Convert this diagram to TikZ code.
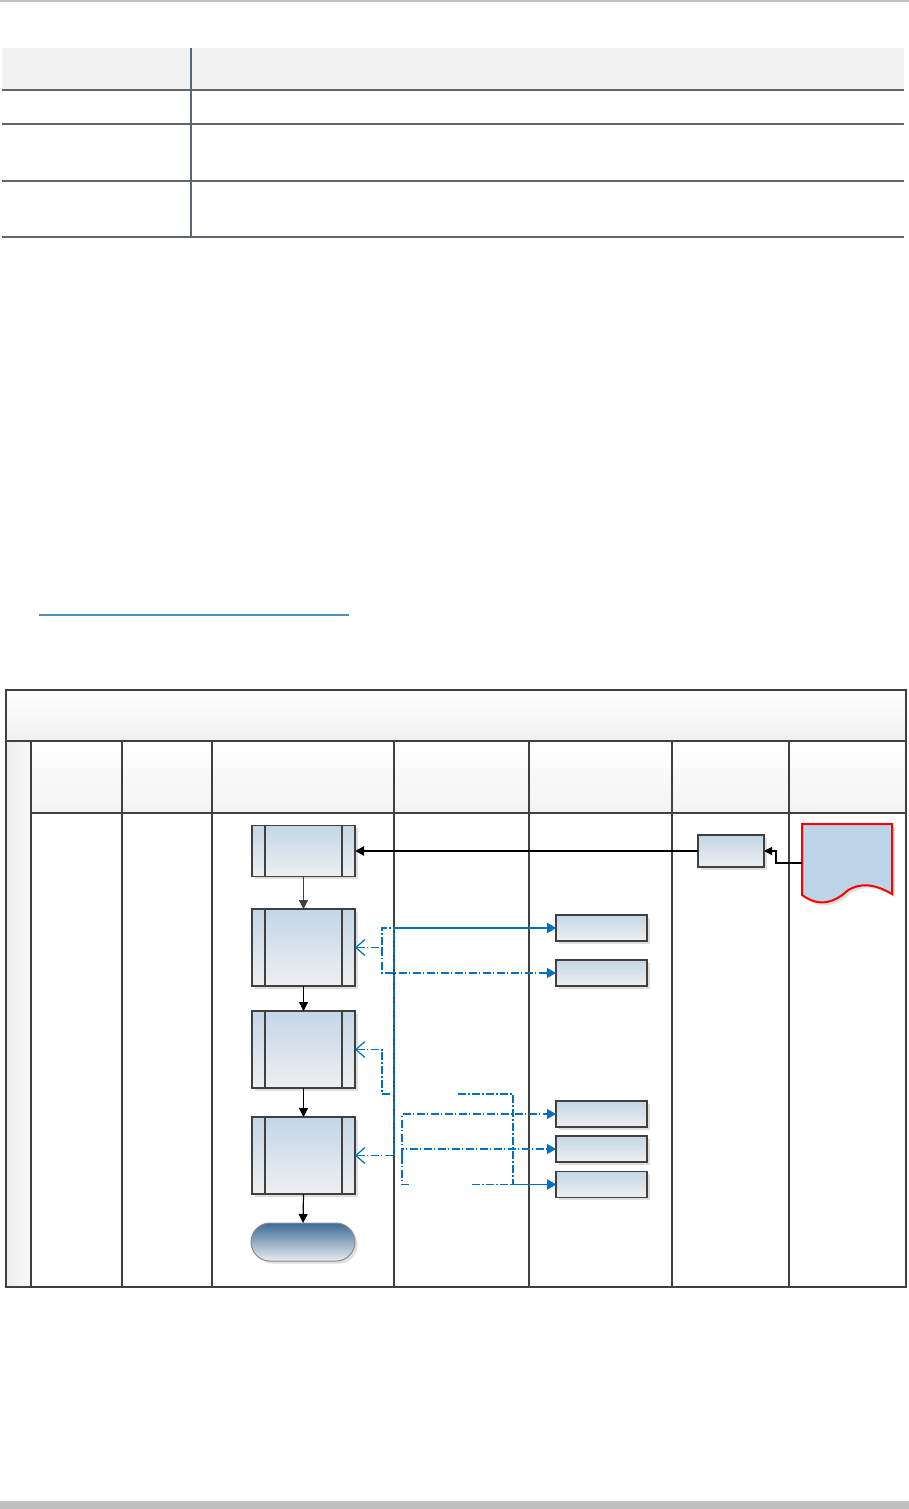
\documentclass[tikz,border=0pt]{standalone}
\usetikzlibrary{arrows.meta,shadows,shadings}
\definecolor{lanec}{HTML}{404040}
\definecolor{tblc}{HTML}{5B6670}
\definecolor{hdrc}{HTML}{F2F2F2}
\definecolor{ulc}{HTML}{4F8FBF}
\definecolor{boxtop}{HTML}{C3D6E7}
\definecolor{boxbot}{HTML}{EEEFF1}
\definecolor{termtop}{HTML}{3D6B98}
\definecolor{termbot}{HTML}{E9EDF1}
\definecolor{docfill}{HTML}{BDD3E8}
\definecolor{bluec}{HTML}{0070C0}
\definecolor{barc}{HTML}{C0C0C0}
\tikzset{
  shad/.style={drop shadow={fill=black!13,opacity=1,shadow xshift=1.3pt,shadow yshift=-1.3pt}},
  subproc/.style={draw=lanec,line width=0.7pt,top color=boxtop,bottom color=boxbot,
    inner sep=0pt,outer sep=0pt,minimum width=51.5pt,minimum height=38.5pt,shad,
    path picture={
      \draw[lanec,line width=0.7pt] ([xshift=6.5pt]path picture bounding box.north west) -- ([xshift=6.5pt]path picture bounding box.south west);
      \draw[lanec,line width=0.7pt] ([xshift=-6.5pt]path picture bounding box.north east) -- ([xshift=-6.5pt]path picture bounding box.south east);}},
  smallbox/.style={draw=lanec,line width=0.7pt,top color=boxtop,bottom color=boxbot,
    inner sep=0pt,outer sep=0pt,minimum width=45.5pt,minimum height=13pt,shad},
  termbox/.style={draw=black!45,line width=0.5pt,top color=termtop,bottom color=termbot,
    rounded corners=9.5pt,inner sep=0pt,outer sep=0pt,minimum width=52pt,minimum height=19pt,shad},
  flow/.style={draw=black,line width=0.6pt,-{Triangle[length=4.5pt,width=4.5pt]}},
  bl/.style={draw=bluec,line width=0.6pt,dash pattern=on 4pt off 1.2pt on 0.6pt off 1.2pt},
  Oarr/.tip={Straight Barb[length=4.5pt,width=8pt,line width=0.6pt]},
  Farr/.tip={Triangle[length=4.5pt,width=5pt]},
  laneline/.style={draw=lanec,line width=0.75pt},
  tblline/.style={draw=tblc,line width=0.8pt}
}
\begin{document}
\begin{tikzpicture}[x=0.5pt,y=-0.5pt]
\useasboundingbox (0,0) rectangle (909,1509);
\fill[white] (0,0) rectangle (909,1509);
% page bars
\fill[barc] (0,0) rectangle (909,2);
\fill[barc] (0,1501) rectangle (909,1509);
% table
\fill[hdrc] (2,48) rectangle (904,90);
\foreach \yy in {90,124,181,237} \draw[tblline] (2,\yy) -- (904,\yy);
\draw[tblline] (191,48) -- (191,237);
% link underline
\draw[ulc,line width=0.8pt] (39,615) -- (349,615);
% swimlane frame
\shade[top color=white,bottom color=black!6] (6,690) rectangle (906,741);
\shade[left color=black!7,right color=black!2] (6,741) rectangle (31,1287);
\shade[top color=white,bottom color=black!5] (31,741) rectangle (906,813);
\draw[laneline] (6,690) rectangle (906,1287);
\draw[laneline] (6,741) -- (906,741);
\draw[laneline] (31,813) -- (906,813);
\foreach \xx in {31,122,212,394,672,789} \draw[laneline] (\xx,741) -- (\xx,1287);
\draw[draw=lanec,line width=1.3pt] (529,741) -- (529,1287);
% nodes
\node[subproc,minimum height=25.5pt] (b1) at (303.5,851) {};
\node[subproc] (b2) at (303.5,947.5) {};
\node[subproc] (b3) at (303.5,1049.5) {};
\node[subproc] (b4) at (303.5,1155.5) {};
\node[termbox] (t1) at (303,1242) {};
\node[smallbox] (r1) at (601.5,928) {};
\node[smallbox] (r2) at (601.5,973) {};
\node[smallbox] (r3) at (601.5,1114) {};
\node[smallbox] (r4) at (601.5,1149) {};
\node[smallbox] (r5) at (601.5,1184.5) {};
\node[smallbox,minimum width=33pt,minimum height=16pt] (sb) at (731,851) {};
% document shape
\node[inner sep=0pt,outer sep=0pt,minimum width=45pt,minimum height=39pt] (doc) at (847,863) {};
\fill[black!13] (805,827) -- (895,827) -- (895,897) .. controls (878,887) and (863,885) .. (850,894) .. controls (838,905) and (823,911) .. (805,898) -- cycle;
\draw[red,line width=1pt,fill=docfill] (802,824) -- (892,824) -- (892,894) .. controls (875,884) and (860,882) .. (847,891) .. controls (835,902) and (820,908) .. (802,895) -- cycle;
% black connectors
\draw[line width=1pt,-{Triangle[length=4.5pt,width=4.5pt]}] (sb.west) -- (b1.east);
\draw[line width=0.6pt,-{Triangle[length=4pt,width=4pt]}] (doc.west) -- ++(-26,0) |- (sb.east);
\draw[flow,draw=lanec] (b1.south) -- (b2.north);
\draw[flow] (b2.south) -- (b3.north);
\draw[flow] (b3.south) -- (b4.north);
\draw[flow] (b4.south) -- (t1.north);
% blue dash-dot connectors
\draw[bl,Oarr-Farr] (b2.east) -- ++(27,0) |- (r1.west);
\draw[bl,-Farr] (b2.east) ++(27,0) |- (r2.west);
\coordinate (g1) at (391,1094);
\coordinate (g2) at (458,1094);
\draw[bl,Oarr-] (b3.east) -- ++(27,0) |- (g1);
\draw[bl,-Farr] (g2) -- (513,1094) |- (r5.west);
\draw[bl,Oarr-Farr] (b4.east) -- ++(39,0) |- (r1.west);
\draw[bl,-Farr] (b4.east) ++(47,0) |- (r3.west);
\draw[bl,-Farr] (b4.east) ++(47,0) |- (r4.west);
\coordinate (g3) at (409,1184.5);
\coordinate (g4) at (472,1184.5);
\draw[bl] (b4.east) ++(47,0) |- (g3);
\draw[bl,-Farr] (g4) -- (r5.west);
\end{tikzpicture}
\end{document}
